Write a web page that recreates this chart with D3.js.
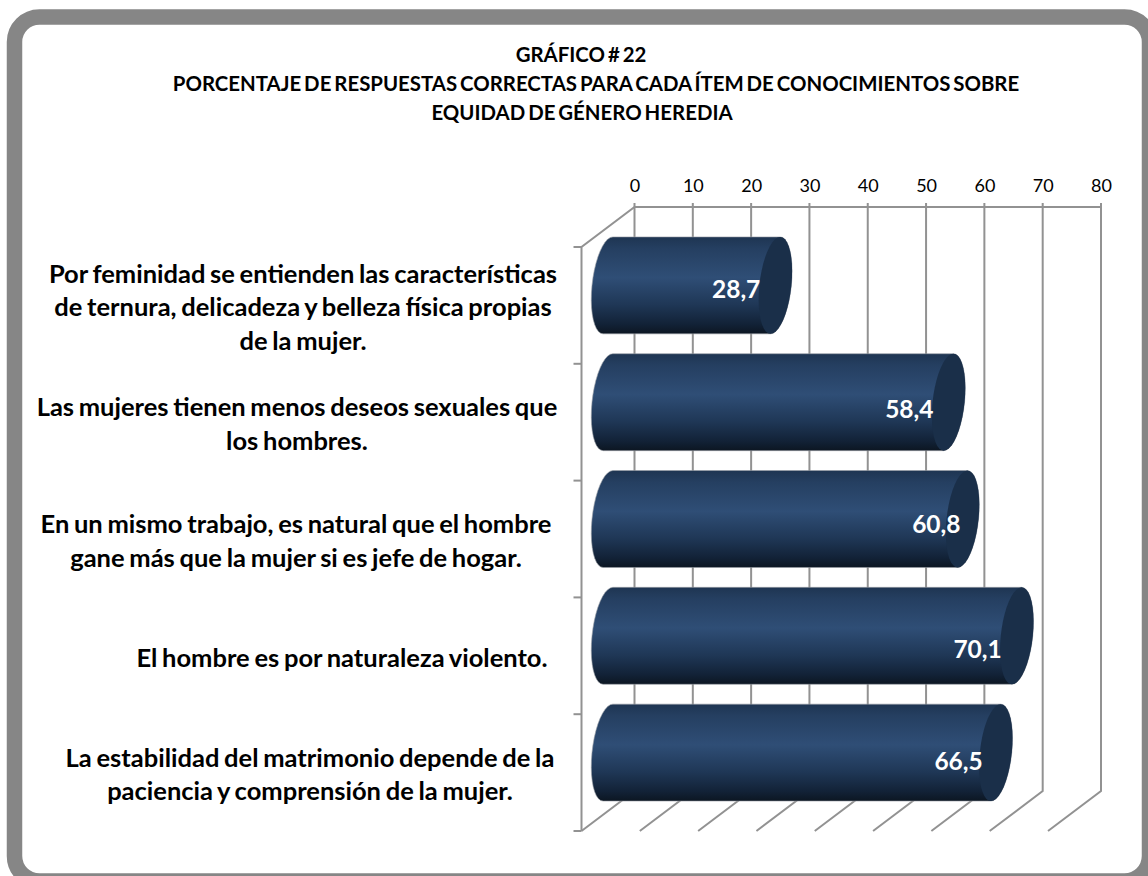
<!DOCTYPE html>
<html>
<head>
<meta charset="utf-8">
<script src="https://cdn.jsdelivr.net/npm/d3@7"></script>
<style>
  html, body { margin: 0; padding: 0; background: #fff; overflow: hidden; }
  svg { display: block; font-family: Lato, "Open Sans", sans-serif; }
</style>
</head>
<body>
<script>
// ============================ DATA ============================
const titleLines = [
    'GRÁFICO # 22',
    'PORCENTAJE DE RESPUESTAS CORRECTAS PARA CADA ÍTEM DE CONOCIMIENTOS SOBRE',
    'EQUIDAD DE GÉNERO HEREDIA'
];
const categories = [
    ['Por feminidad se entienden las características', 'de ternura, delicadeza y belleza física propias', 'de la mujer.'],
    ['Las mujeres tienen menos deseos sexuales que', 'los hombres.'],
    ['En un mismo trabajo, es natural que el hombre', 'gane más que la mujer si es jefe de hogar.'],
    ['El hombre es por naturaleza violento.'],
    ['La estabilidad del matrimonio depende de la', 'paciencia y comprensión de la mujer.']
];
const values = [28.7, 58.4, 60.8, 70.1, 66.5];
const valueTicks = [0, 10, 20, 30, 40, 50, 60, 70, 80];

// ============================ LAYOUT ===========================
const width = 1148, height = 876;
const depthX = 53, depthY = 40;          // 3d offset front -> back wall
const frontTop = 247, frontBottom = 831;
const capRx = 16, capSkew = 0.1;
const titleCenters = [581, 596, 582];
const labelCenters = [303, 297, 296, 342, 310];
const valueNudgeX = [-15, -15, -2, -15, -13];
const valueNudgeY = [4, 7, 5.5, 14, 9];
const gridColor = '#929292';

const svg = d3.select('body').append('svg')
    .attr('width', width)
    .attr('height', height);

const defs = svg.append('defs');
const grad = defs.append('linearGradient')
    .attr('id', 'barGrad')
    .attr('x1', 0).attr('y1', 0).attr('x2', 0).attr('y2', 1);
[[0, '#1e3552'], [0.12, '#253f61'], [0.42, '#2f4e76'], [0.7, '#1f3756'], [0.9, '#122237'], [1, '#0c1622']]
    .forEach(function (s) {
        grad.append('stop').attr('offset', s[0]).attr('stop-color', s[1]);
    });

// frame
svg.append('rect')
    .attr('x', 14.5).attr('y', 17)
    .attr('width', 1135).attr('height', 864)
    .attr('rx', 25).attr('ry', 25)
    .attr('fill', '#fff')
    .attr('stroke', '#868686')
    .attr('stroke-width', 15.5);

// title
svg.append('g').selectAll('text')
    .data(titleLines).enter()
    .append('text')
        .attr('x', function (d, i) { return titleCenters[i] })
        .attr('y', function (d, i) { return 62 + i * 29 })
        .attr('text-anchor', 'middle')
        .attr('font-size', 20.4)
        .attr('font-weight', 700)
        .attr('word-spacing', -2)
        .attr('fill', '#000')
        .text(function (d) { return d });

// ============================ SCALES ===========================
const x = d3.scaleLinear().domain([0, 80]).range([634.5, 1101]);
const y = d3.scaleBand().domain(d3.range(categories.length))
    .range([frontTop, frontBottom])
    .paddingInner(0.17)
    .paddingOuter(0.085);

// ============================ AXES & GRID ======================
const wallTop = frontTop - depthY, wallBottom = frontBottom - depthY;

const axisTop = d3.axisTop(x).tickValues(valueTicks).tickSize(0).tickPadding(0);
const axisG = svg.append('g')
    .attr('transform', 'translate(0,' + (wallTop - 15) + ')')
    .call(axisTop);
axisG.select('.domain').remove();
axisG.selectAll('text')
    .attr('font-family', 'Lato, sans-serif')
    .attr('font-size', 18)
    .attr('fill', '#000');

const grid = svg.append('g')
    .attr('stroke', gridColor)
    .attr('stroke-width', 2)
    .attr('fill', 'none');

// back wall verticals + floor diagonals
valueTicks.forEach(function (t) {
    grid.append('path')
        .attr('d', 'M' + x(t) + ',' + (wallTop - 4) + 'V' + wallBottom + 'L' + (x(t) - depthX) + ',' + frontBottom);
});
// top of back wall and left wall
grid.append('path')
    .attr('d', 'M' + x(80) + ',' + wallTop + 'H' + x(0) + 'L' + (x(0) - depthX) + ',' + frontTop + 'V' + frontBottom);

// category ticks on the front edge
const step = y.step();
d3.range(categories.length + 1).forEach(function (i) {
    const ty = frontTop + i * step;
    grid.append('line')
        .attr('x1', x(0) - depthX - 8).attr('x2', x(0) - depthX)
        .attr('y1', ty).attr('y2', ty);
});

// ============================ BARS =============================
const angles = d3.range(0, 1.0001, 0.05);

function ellipsePoint(cx, cy, ry, a) {
    return [cx + capRx * Math.cos(a) - capSkew * ry * Math.sin(a), cy + ry * Math.sin(a)];
}

function cylinderPath(x0, x1, cy, ry) {
    // right side half ellipse from top to bottom, left side half ellipse from bottom to top
    const right = angles.map(function (t) { return ellipsePoint(x1, cy, ry, -Math.PI / 2 + t * Math.PI) });
    const left = angles.map(function (t) { return ellipsePoint(x0, cy, ry, Math.PI / 2 + t * Math.PI) });
    return d3.line()(right.concat(left)) + 'Z';
}

function capPath(cx, cy, ry) {
    const pts = d3.range(0, 1, 0.025).map(function (t) { return ellipsePoint(cx, cy, ry, t * 2 * Math.PI) });
    return d3.line()(pts) + 'Z';
}

const bars = svg.append('g').selectAll('g')
    .data(values).enter()
    .append('g');

const barBase = x(0) - depthX / 2;
function barEnd(v) { return x(v) - depthX / 2 }
function barMid(i) { return y(i) + y.bandwidth() / 2 - depthY / 2 }

bars.append('path')
    .attr('d', function (d, i) { return cylinderPath(barBase, barEnd(d), barMid(i), y.bandwidth() / 2) })
    .attr('fill', 'url(#barGrad)')
    .attr('stroke', '#9a9fa6')
    .attr('stroke-width', 0.6);

bars.append('path')
    .attr('d', function (d, i) { return capPath(barEnd(d), barMid(i), y.bandwidth() / 2) })
    .attr('fill', '#1a2f49');

bars.append('text')
    .attr('x', function (d, i) { return barEnd(d) + valueNudgeX[i] })
    .attr('y', function (d, i) { return barMid(i) + valueNudgeY[i] + 8.5 })
    .attr('text-anchor', 'end')
    .attr('font-size', 24.5)
    .attr('font-weight', 700)
    .attr('fill', '#fff')
    .text(function (d) { return d.toFixed(1).replace('.', ',') });

// ============================ CATEGORY LABELS ==================
categories.forEach(function (lines, i) {
    const mid = barMid(i) + 23;
    svg.append('g').selectAll('text')
        .data(lines).enter()
        .append('text')
            .attr('x', labelCenters[i])
            .attr('y', function (d, j) { return mid + (j - (lines.length - 1) / 2) * 33.5 + 8 })
            .attr('text-anchor', 'middle')
            .attr('font-size', 25.5)
            .attr('font-weight', 700)
            .attr('word-spacing', -1.5)
            .attr('fill', '#000')
            .text(function (d) { return d });
});
</script>
</body>
</html>
